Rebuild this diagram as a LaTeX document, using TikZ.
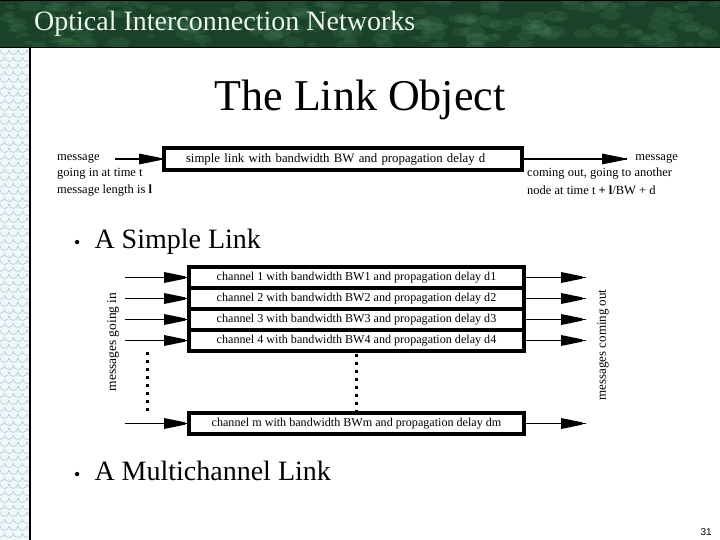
\documentclass[tikz,border=0pt]{standalone}
\usepackage{fontspec}
\setmainfont{Liberation Serif}
\newfontfamily\sansf{Liberation Sans}
\usetikzlibrary{decorations.markings}
\definecolor{hdrgreen}{RGB}{26,66,40}
\definecolor{hdrlight}{RGB}{80,140,100}
\definecolor{stripbg}{RGB}{238,248,250}
\definecolor{stripln}{RGB}{180,200,210}
\definecolor{hdrtext}{RGB}{236,244,236}
\begin{document}
\begin{tikzpicture}[x=1pt,y=-1pt,
  linkbox/.style={draw, line width=3.2pt, inner ysep=0pt, inner xsep=4pt, outer sep=0pt, minimum height=21pt, anchor=north west, font=\fontsize{12.1}{14}\selectfont},
  fatarrow/.style={line width=1.9pt, postaction={decorate},
    decoration={markings, mark=at position -4pt with {\fill (-21pt,-5.5pt) -- (0pt,-1.2pt) -- (0pt,1.2pt) -- (-21pt,5.5pt) -- cycle;}}},
  small/.style={font=\fontsize{12.5}{17.5}\selectfont, inner sep=0pt},
  bullettext/.style={font=\fontsize{28}{30}\selectfont, inner sep=0pt, anchor=base west},
  dots/.style={line width=3pt, dash pattern=on 3pt off 5pt}
]
\useasboundingbox (0,0) rectangle (720,540);
% header bar
\begin{scope}
  \clip (0,0) rectangle (720,47);
  \fill[hdrgreen] (0,0) rectangle (720,47);
  \pgfmathsetseed{7}
  \foreach \i in {1,...,220} {
    \pgfmathsetmacro\px{360+370*rand}
    \pgfmathsetmacro\py{23+24*rand}
    \pgfmathsetmacro\rr{3.5+2.5*rand}
    \fill[hdrlight, opacity=0.17] (\px,\py) ellipse [x radius=2*\rr pt, y radius=\rr pt];
  }
\end{scope}
\draw[line width=1pt] (0,0.5) -- (720,0.5);
\draw[line width=1.5pt] (0,47.5) -- (720,47.5);
\node[font=\fontsize{28}{30}\selectfont, text=hdrtext, inner sep=0pt, anchor=base west] (hdr) at (34,31) {Optical Interconnection Networks};
% left strip
\begin{scope}
  \clip (0,48) rectangle (30,540);
  \fill[stripbg] (0,48) rectangle (30,540);
  \foreach \r in {0,...,70} {
    \pgfmathsetmacro\yy{50+\r*7}
    \pgfmathsetmacro\off{mod(\r,2)*4.5}
    \foreach \c in {-1,...,4} {
      \draw[stripln, line width=0.6pt] (\c*9+\off,\yy) arc[start angle=180, end angle=360, radius=4.5pt];
    }
  }
\end{scope}
\draw[line width=1.5pt] (30,48) -- (30,540);
% title
\node[font=\fontsize{44}{48}\selectfont, inner sep=0pt, anchor=base] (title) at (360,111) {The Link Object};
% simple link
\node[linkbox, font=\fontsize{12.8}{14}\selectfont, minimum width=358pt, text width=314pt, inner xsep=22pt, minimum height=22pt, align=left] (link) at (164,148) {simple link with bandwidth BW and propagation delay d};
\node[small, anchor=west] (inmsg) at (57,159) {message};
\node[small, anchor=north west, align=left] (intxt) at (57,168) {going in at time t\\message length is \textbf{l}};
\path (link.west) ++(-49,0) coordinate (instart);
\draw[fatarrow] (instart) -- (link.west);
\path (link.east) ++(105,0) coordinate (outend);
\draw[fatarrow] (link.east) -- (outend);
\node[small, anchor=east] (outmsg) at (678,159) {message};
\node[small, anchor=north west, align=left] (outtxt) at (527,168) {coming out, going to another\\node at time t \textbf{+} \textbf{l}/BW + d};
\node[bullettext] (b1) at (74,248) {{\fontsize{18}{18}\selectfont •}\hspace{14pt}A Simple Link};
% multichannel link
\node[linkbox, minimum width=335pt] (c1) at (189,267) {channel 1 with bandwidth BW1 and propagation delay d1};
\node[linkbox, minimum width=335pt] (c2) at (189,288) {channel 2 with bandwidth BW2 and propagation delay d2};
\node[linkbox, minimum width=335pt] (c3) at (189,309) {channel 3 with bandwidth BW3 and propagation delay d3};
\node[linkbox, minimum width=335pt] (c4) at (189,330) {channel 4 with bandwidth BW4 and propagation delay d4};
\node[linkbox, minimum width=335pt] (cm) at (189,413) {channel m with bandwidth BWm and propagation delay dm};
\foreach \n in {c1,c2,c3,c4,cm} {
  \path (\n.west) ++(-64,0) coordinate (l\n);
  \path (\n.east) ++(62,0) coordinate (r\n);
  \draw[fatarrow] (l\n) -- (\n.west);
  \draw[fatarrow] (\n.east) -- (r\n);
}
\coordinate (dla) at (147,352);
\coordinate (dlb) at (147,413);
\draw[dots] (dla) -- (dlb);
\draw[dots] ([yshift=-3pt]c4.south) -- ([yshift=2pt]cm.north);
\node[small, font=\fontsize{13.5}{16}\selectfont, rotate=90] (gin) at (113,342) {messages going in};
\node[small, font=\fontsize{13}{16}\selectfont, rotate=90] (cout) at (603,345) {messages coming out};
\node[bullettext] (b2) at (74,480) {{\fontsize{18}{18}\selectfont •}\hspace{14pt}A Multichannel Link};
\node[font=\sansf\fontsize{10}{12}\selectfont, inner sep=0pt, anchor=east] (pg) at (712,532) {31};
\end{tikzpicture}
\end{document}
